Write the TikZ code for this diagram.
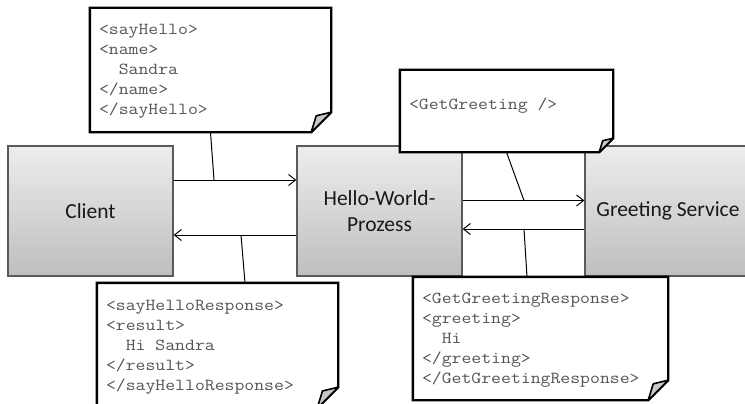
\documentclass[tikz,border=0pt]{standalone}
\usepackage{fontspec}
\setmainfont{Carlito}
\newfontfamily\xmlfont[FakeStretch=1.143]{Latin Modern Mono}
\usetikzlibrary{arrows.meta}
\definecolor{boxtop}{RGB}{237,237,237}
\definecolor{boxbot}{RGB}{190,190,190}
\definecolor{boxline}{RGB}{90,90,90}
\definecolor{xmlgray}{RGB}{85,85,85}
\definecolor{flapgray}{RGB}{200,200,200}
\newcommand\mynote[2]{%
  \filldraw[notebd] (#1.north west) -- (#1.north east) -- ([yshift=#2]#1.south east)
     -- ([xshift=-#2]#1.south east) -- (#1.south west) -- cycle;
  \filldraw[flap] ([yshift=#2]#1.south east) -- ([xshift=-0.75*#2,yshift=0.82*#2]#1.south east)
     -- ([xshift=-#2]#1.south east) -- cycle;
}
\begin{document}
\begin{tikzpicture}[x=1pt,y=-1pt,
  proc/.style={draw=boxline, line width=1.3pt, top color=boxtop, bottom color=boxbot,
    minimum width=165pt, minimum height=130pt, inner sep=0pt, align=center,
    font=\fontsize{21.5}{26}\selectfont, text=black!90},
  notebox/.style={draw=none, inner sep=0pt},
  notebd/.style={draw=black, fill=white, line width=2.4pt},
  flap/.style={draw=black, fill=flapgray, line width=1.6pt, line join=round},
  xml/.style={anchor=base west, inner sep=0pt, align=left, text=xmlgray,
    font=\fontsize{16.8}{20}\selectfont\xmlfont},
  arr/.style={draw=black, line width=1pt, -{Straight Barb[length=7pt,width=11pt]}},
  conn/.style={draw=black, line width=1pt}]
\clip (0,0) rectangle (745,404);
\fill[white] (0,0) rectangle (745,404);

% process boxes
\node[proc] (client) at (90.5,211) {Client};
\node[proc] (hwp) at (379.5,211) {Hello-World-\\Prozess};
\node[proc, minimum width=166pt] (gs) at (668,211) {Greeting Service};

% message arrows
\draw[arr] ([yshift=31pt]client.east) -- ([yshift=31pt]hwp.west);
\draw[arr] ([yshift=-24pt]hwp.west) -- ([yshift=-24pt]client.east);
\draw[arr] ([yshift=10.5pt]hwp.east) -- ([yshift=10.5pt]gs.west);
\draw[arr] ([yshift=-18pt]gs.west) -- ([yshift=-18pt]hwp.east);

\coordinate (k1) at (214,180);
\coordinate (k3) at (241,235);
\coordinate (k2) at (524,200.5);
\coordinate (k4) at (524,229);

% notes
\node[notebox, minimum width=241pt, minimum height=124pt] (n1) at (210.5,70) {};
\node[notebox, minimum width=213pt, minimum height=82pt] (n2) at (506.5,111) {};
\node[notebox, minimum width=241pt, minimum height=125pt] (n3) at (217.5,345.5) {};
\node[notebox, minimum width=255pt, minimum height=123pt] (n4) at (540.5,338.5) {};

\draw[conn] (n1.south) -- (k1);
\draw[conn] (n2.south) -- (k2);
\draw[conn] ([xshift=27.5pt]n3.north) -- (k3);
\draw[conn] ([xshift=-13.5pt]n4.north) -- (k4);

\mynote{n1}{20pt}
\mynote{n2}{14pt}
\mynote{n3}{21pt}
\mynote{n4}{20pt}

% anchor "base" of a multi-line node is the baseline of its last line
\node[xml] (t1) at ([xshift=9pt,yshift=-107pt]n1.north west)
  {<sayHello>\\<name>\\\phantom{MM}Sandra\\</name>\\</sayHello>};
\node[xml] (t2) at ([xshift=9pt,yshift=-40pt]n2.north west)
  {<GetGreeting />};
\node[xml] (t3) at ([xshift=9pt,yshift=-108pt]n3.north west)
  {<sayHelloResponse>\\<result>\\\phantom{MM}Hi Sandra\\</result>\\</sayHelloResponse>};
\node[xml] (t4) at ([xshift=9pt,yshift=-107pt]n4.north west)
  {<GetGreetingResponse>\\<greeting>\\\phantom{MM}Hi\\</greeting>\\</GetGreetingResponse>};
\end{tikzpicture}
\end{document}
